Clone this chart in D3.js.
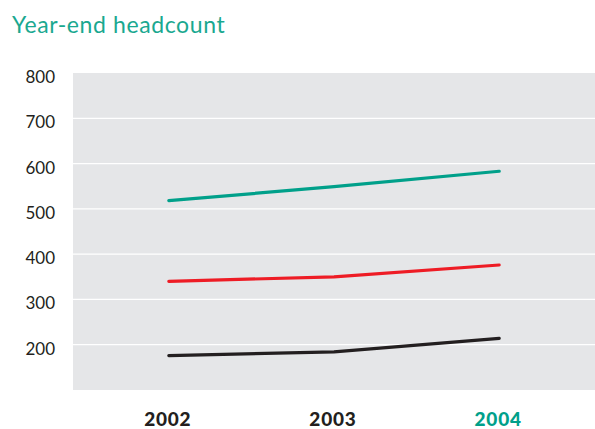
<!DOCTYPE html>
<html>
<head>
<meta charset="utf-8">
<script src="https://cdn.jsdelivr.net/npm/d3@7"></script>
<style>
  body { margin: 0; background: #fff; }
  svg { display: block; font-family: "Lato", "Open Sans", sans-serif; }
</style>
</head>
<body>
<svg id="chart"></svg>
<script>
const width = 595;
const height = 429;

// data
const years = ["2002", "2003", "2004"];
const yTicks = [200, 300, 400, 500, 600, 700, 800];
const tealSeries = [518, 549, 583];
const redSeries = [340, 350, 376];
const blackSeries = [176, 184, 214];

const series = [
  { values: tealSeries, color: "#00a08a" },
  { values: redSeries, color: "#ee1c25" },
  { values: blackSeries, color: "#231f20" }
];

const margin = { top: 73, right: 0, bottom: 39, left: 73 };

const svg = d3.select("#chart")
    .attr("width", width)
    .attr("height", height);

const x = d3.scalePoint()
    .domain(years)
    .range([margin.left, width - margin.right])
    .padding(0.58);

const y = d3.scaleLinear()
    .domain([100, 800])
    .range([height - margin.bottom, margin.top]);

svg.append("text")
    .attr("x", 12)
    .attr("y", 33)
    .attr("fill", "#1aa890")
    .attr("font-size", 23)
    .attr("letter-spacing", 0.6)
    .text("Year-end headcount");

// plot background
svg.append("rect")
    .attr("x", margin.left)
    .attr("y", margin.top)
    .attr("width", width - margin.left - margin.right)
    .attr("height", height - margin.top - margin.bottom)
    .attr("fill", "#e5e6e8");

// white gridlines
svg.selectAll(".grid")
    .data(yTicks.filter(d => d < 800))
  .enter().append("line")
    .attr("class", "grid")
    .attr("x1", margin.left)
    .attr("x2", width - margin.right)
    .attr("y1", d => y(d))
    .attr("y2", d => y(d))
    .attr("stroke", "#fff")
    .attr("stroke-width", 1.2);

// y labels
svg.selectAll(".ylab")
    .data(yTicks)
  .enter().append("text")
    .attr("class", "ylab")
    .attr("x", 55)
    .attr("y", d => y(d) + 10)
    .attr("text-anchor", "end")
    .attr("fill", "#231f20")
    .attr("font-size", 17)
    .text(d => d);

// x labels
svg.selectAll(".xlab")
    .data(years)
  .enter().append("text")
    .attr("class", "xlab")
    .attr("x", d => x(d) - 1)
    .attr("y", 426)
    .attr("text-anchor", "middle")
    .attr("font-size", 19)
    .attr("font-weight", 900)
    .attr("letter-spacing", 0.8)
    .attr("fill", (d, i) => i === years.length - 1 ? "#00a08a" : "#231f20")
    .text(d => d);

const line = d3.line()
    .x((d, i) => x(years[i]))
    .y(d => y(d));

svg.selectAll(".series")
    .data(series)
  .enter().append("path")
    .attr("class", "series")
    .attr("d", d => line(d.values))
    .attr("fill", "none")
    .attr("stroke", d => d.color)
    .attr("stroke-width", 3.2)
    .attr("stroke-linecap", "round")
    .attr("stroke-linejoin", "round");
</script>
</body>
</html>
